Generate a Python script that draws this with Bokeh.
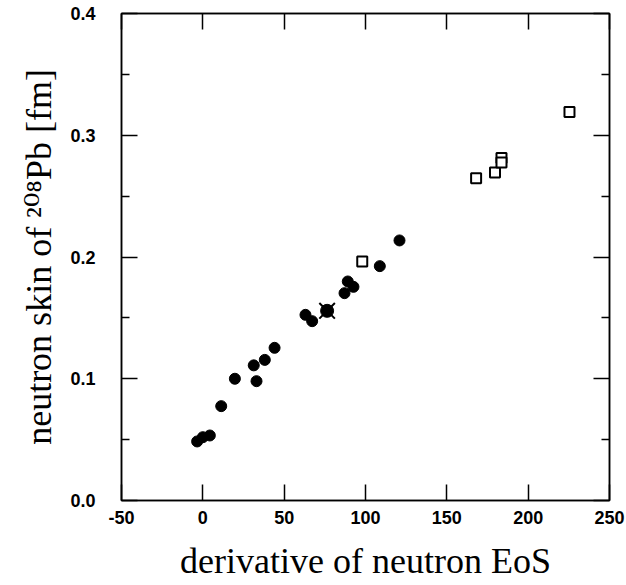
from bokeh.plotting import figure
from bokeh.models import LinearAxis, FixedTicker, NumeralTickFormatter
from bokeh.embed import file_html
from bokeh.resources import INLINE

# Skyrme-type (filled circles)
circ_x = [-3.5, 0.0, 4.3, 11.3, 19.7, 31.3, 33.0, 38.1, 44.1, 63.1, 67.2,
          87.1, 89.1, 92.6, 108.8, 120.9]
circ_y = [0.0485, 0.052, 0.0534, 0.0775, 0.100, 0.111, 0.098, 0.1155, 0.1254,
          0.1525, 0.1473, 0.1703, 0.1799, 0.1755, 0.1925, 0.2136]
# relativistic (open squares)
sq_x = [98.0, 168.0, 179.6, 183.6, 183.6, 225.4]
sq_y = [0.1963, 0.2647, 0.2694, 0.2813, 0.2776, 0.319]
# special point (filled circle with cross)
star_x = [76.4]
star_y = [0.1558]

x_ticks = [-50, 0, 50, 100, 150, 200, 250]
y_ticks = [0.0, 0.1, 0.2, 0.3, 0.4]
y_minor = [0.05, 0.15, 0.25, 0.35]

p = figure(width=626, height=585, x_range=(-50, 250), y_range=(0, 0.4),
           output_backend="svg", toolbar_location=None,
           min_border_left=121, min_border_right=17, min_border_top=13,
           min_border_bottom=85, x_axis_location=None, y_axis_location=None)
p.grid.visible = False
p.outline_line_color = "black"
p.outline_line_width = 1.5
p.background_fill_color = "white"
p.border_fill_color = "white"

tick_font = "Liberation Sans"
label_font = "'Liberation Serif', 'DejaVu Serif', serif"

def make_axis(ticks, minor, labels, fmt):
    ax = LinearAxis(ticker=FixedTicker(ticks=ticks, minor_ticks=minor))
    ax.axis_line_color = "black"
    ax.axis_line_width = 1.5
    ax.major_tick_in = 16
    ax.major_tick_out = 0
    ax.minor_tick_in = 8
    ax.minor_tick_out = 0
    ax.major_tick_line_width = 1.5
    ax.minor_tick_line_width = 1.5
    ax.formatter = NumeralTickFormatter(format=fmt)
    if labels:
        ax.major_label_text_font = tick_font
        ax.major_label_text_font_size = "18px"
        ax.major_label_text_font_style = "bold"
        ax.major_label_text_color = "black"
    else:
        ax.major_label_text_font_size = "0px"
        ax.major_label_text_color = None
        ax.major_label_standoff = 0
    return ax

left = make_axis(y_ticks, y_minor, True, "0.0")
left.major_label_standoff = 26
left.axis_label = "neutron skin of \u00b2\u2070\u2078Pb [fm]"
left.axis_label_text_font = label_font
left.axis_label_text_font_size = "36px"
left.axis_label_text_font_style = "normal"
left.axis_label_text_color = "black"
left.axis_label_standoff = 8
p.add_layout(left, "left")

bottom = make_axis(x_ticks, [], True, "0")
bottom.major_label_standoff = 10
bottom.axis_label = "derivative of neutron EoS"
bottom.axis_label_text_font = label_font
bottom.axis_label_text_font_size = "36px"
bottom.axis_label_text_font_style = "normal"
bottom.axis_label_text_color = "black"
bottom.axis_label_standoff = 14
p.add_layout(bottom, "below")

right = make_axis(y_ticks, y_minor, False, "0.0")
p.add_layout(right, "right")
top = make_axis(x_ticks, [], False, "0")
p.add_layout(top, "above")

p.scatter(circ_x, circ_y, marker="circle", size=11, fill_color="black", line_color="black")
p.scatter(sq_x, sq_y, marker="square", size=10, fill_color="white", line_color="black", line_width=2)
p.scatter(star_x, star_y, marker="circle", size=13, fill_color="black", line_color="black")
p.scatter(star_x, star_y, marker="x", size=22, line_color="black", line_width=2)

open("out.html", "w").write(file_html(p, INLINE))
